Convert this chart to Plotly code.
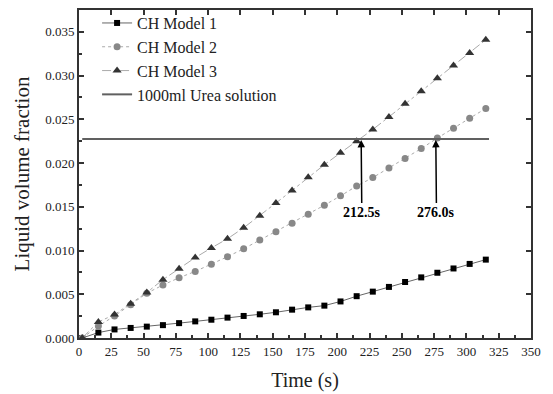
import plotly.graph_objects as go

time_s = [2.5, 15, 27.5, 40, 52.5, 65, 77.5, 90, 102.5, 115, 127.5, 140, 152.5,
          165, 177.5, 190, 202.5, 215, 227.5, 240, 252.5, 265, 277.5, 290, 302.5, 315]

model1 = [0.0, 0.00062, 0.00098, 0.00115, 0.0013, 0.00147, 0.0017, 0.0019, 0.00209,
          0.00233, 0.00252, 0.00271, 0.00294, 0.00324, 0.0035, 0.0037, 0.00418, 0.00478,
          0.0053, 0.00584, 0.0064, 0.00693, 0.00746, 0.00795, 0.00847, 0.00896]

model2 = [0.0, 0.00136, 0.00252, 0.00381, 0.00512, 0.00606, 0.00689, 0.00761, 0.00844,
          0.0093, 0.0102, 0.0112, 0.01215, 0.01311, 0.01416, 0.01518, 0.01625, 0.01737,
          0.01834, 0.01944, 0.02053, 0.02166, 0.02286, 0.02399, 0.02512, 0.02625]

model3 = [0.0, 0.00184, 0.00268, 0.00392, 0.0052, 0.00667, 0.00791, 0.00919, 0.0103,
          0.01135, 0.0126, 0.01398, 0.01543, 0.01687, 0.01838, 0.01981, 0.02117, 0.02249,
          0.02384, 0.02528, 0.02678, 0.02822, 0.02969, 0.03116, 0.03258, 0.0341]

urea_x = [2.5, 317.5]
urea_level = 0.02275

crossing_x = [218.5, 276.3]
crossing_labels = ["212.5s", "276.0s"]
label_y = 0.0144

FONT = "Liberation Serif, Times New Roman, serif"

fig = go.Figure()

fig.add_trace(go.Scatter(
    x=time_s, y=model1, mode="lines+markers", name="CH Model 1",
    line=dict(color="#666666", width=1),
    marker=dict(symbol="square", size=6, color="#000000"),
))
fig.add_trace(go.Scatter(
    x=time_s, y=model2, mode="lines+markers", name="CH Model 2",
    line=dict(color="#aaaaaa", width=1, dash="dot"),
    marker=dict(symbol="circle", size=7, color="#888888"),
))
fig.add_trace(go.Scatter(
    x=time_s, y=model3, mode="lines+markers", name="CH Model 3",
    line=dict(color="#aaaaaa", width=1, dash="dashdot"),
    marker=dict(symbol="triangle-up", size=8, color="#333333"),
))
fig.add_trace(go.Scatter(
    x=urea_x, y=[urea_level, urea_level], mode="lines", name="1000ml Urea solution",
    line=dict(color="#606060", width=2),
))
# invisible trace on mirror axes
fig.add_trace(go.Scatter(x=[0], y=[0], xaxis="x2", yaxis="y2", mode="markers",
                         marker=dict(opacity=0), showlegend=False, hoverinfo="skip"))

for cx, lab in zip(crossing_x, crossing_labels):
    fig.add_annotation(
        x=cx, y=urea_level - 0.0001, xref="x", yref="y",
        ax=cx + 0.5, ay=label_y, axref="x", ayref="y",
        text="<b>" + lab + "</b>", showarrow=True,
        arrowhead=2, arrowsize=1, arrowwidth=1.5, arrowcolor="#000000",
        font=dict(family=FONT, size=14, color="#000000"),
    )

axis_common = dict(showline=True, linewidth=2, linecolor="#333333",
                   ticks="inside", tickcolor="#333333", tickwidth=1.5, ticklen=5,
                   showgrid=False, zeroline=False, automargin=False)

fig.update_layout(
    width=553, height=394,
    margin=dict(l=79, r=22, t=6, b=56),
    paper_bgcolor="white", plot_bgcolor="white",
    font=dict(family=FONT, color="#222222"),
    showlegend=True,
    legend=dict(x=0.04, y=1.012, xanchor="left", yanchor="top",
                bgcolor="rgba(0,0,0,0)", font=dict(family=FONT, size=16, color="#222222"),
                tracegroupgap=0, itemwidth=30),
    xaxis=dict(range=[0, 350], dtick=25, tick0=0,
               minor=dict(dtick=12.5, ticks="inside", ticklen=3, tickcolor="#333333"),
               tickfont=dict(family=FONT, size=13, color="#222222"),
               title=dict(text="Time (s)", font=dict(family=FONT, size=20, color="#222222"),
                          standoff=15),
               **axis_common),
    yaxis=dict(range=[0, 0.0375], dtick=0.005, tick0=0, tickformat=".3f",
               minor=dict(dtick=0.0025, ticks="inside", ticklen=3, tickcolor="#333333"),
               tickfont=dict(family=FONT, size=13, color="#222222"),
               title=dict(text="Liquid volume fraction",
                          font=dict(family=FONT, size=21, color="#222222"), standoff=10),
               **axis_common),
    xaxis2=dict(range=[0, 350], dtick=25, tick0=0, overlaying="x", side="top",
                showticklabels=False, **axis_common),
    yaxis2=dict(range=[0, 0.0375], dtick=0.005, tick0=0, overlaying="y", side="right",
                showticklabels=False, **axis_common),
)

fig.write_html("out.html", config={"displayModeBar": False},
               post_script="document.body.style.margin='0';")
